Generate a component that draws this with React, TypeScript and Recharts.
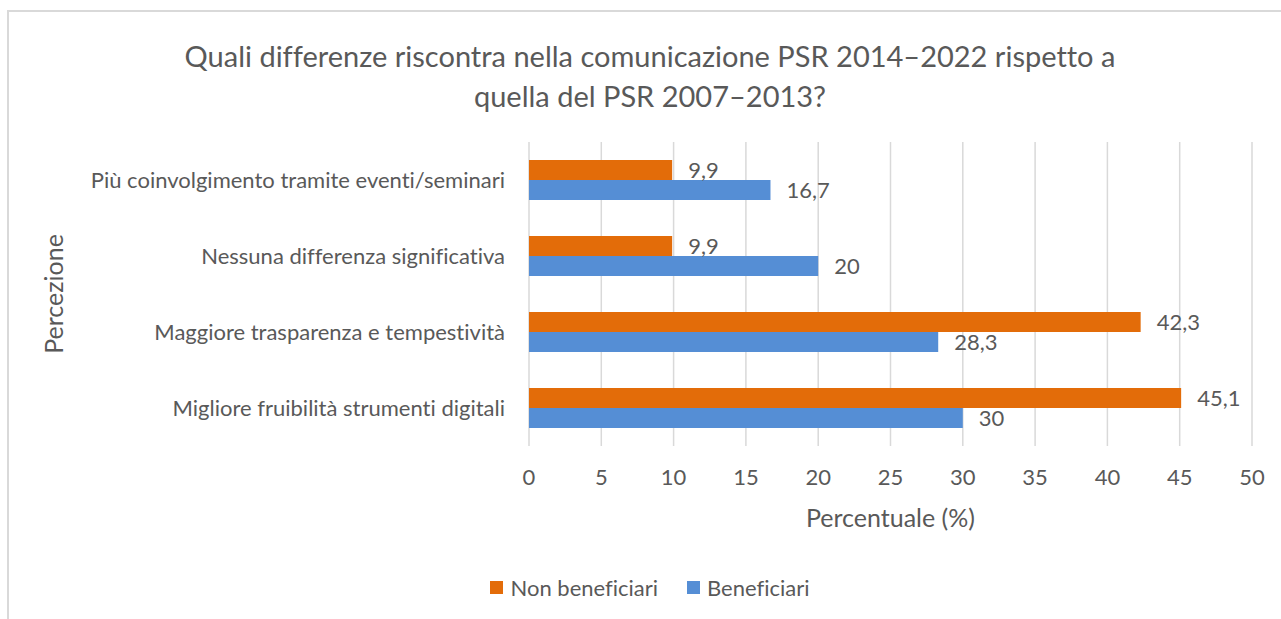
import React from 'react';
import { BarChart, Bar, XAxis, YAxis, CartesianGrid, LabelList, Legend, Label } from 'recharts';

const categories = [
  'Più coinvolgimento tramite eventi/seminari',
  'Nessuna differenza significativa',
  'Maggiore trasparenza e tempestività',
  'Migliore fruibilità strumenti digitali',
];
const nonBeneficiari = [9.9, 9.9, 42.3, 45.1];
const beneficiari = [16.7, 20, 28.3, 30];
const xTicks = [0, 5, 10, 15, 20, 25, 30, 35, 40, 45, 50];

const titleLines = [
  'Quali differenze riscontra nella comunicazione PSR 2014–2022 rispetto a',
  'quella del PSR 2007–2013?',
];

const ORANGE = '#E36C09';
const BLUE = '#558ED5';
const TEXT = '#595959';
const FONT = 'Lato, "Open Sans", sans-serif';

const data = categories.map((name, i) => ({
  name,
  non: nonBeneficiari[i],
  ben: beneficiari[i],
}));

const fmt = (v: any) => String(v).replace('.', ',');

const legendItems = [
  { label: 'Non beneficiari', color: ORANGE },
  { label: 'Beneficiari', color: BLUE },
];

function LegendBox() {
  return (
    <div style={{ display: 'flex', justifyContent: 'center', alignItems: 'center', fontFamily: FONT, fontSize: 22, color: TEXT }}>
      {legendItems.map((it, i) => (
        <span key={it.label} style={{ display: 'inline-flex', alignItems: 'center', marginLeft: i ? 29 : 0 }}>
          <span style={{ width: 13, height: 13, background: it.color, display: 'inline-block', marginRight: 7 }} />
          {it.label}
        </span>
      ))}
    </div>
  );
}

export default function App() {
  return (
    <div
      style={{
        position: 'absolute',
        left: 7,
        top: 10,
        width: 1300,
        height: 640,
        border: '2px solid #D9D9D9',
        boxSizing: 'border-box',
        background: '#fff',
        fontVariantLigatures: 'none',
        fontFeatureSettings: '"liga" 0, "clig" 0',
      }}
    >
      <div
        style={{
          position: 'absolute',
          left: 0,
          top: 24,
          width: 1282,
          textAlign: 'center',
          fontFamily: FONT,
          fontSize: 29,
          lineHeight: '40px',
          color: TEXT,
        }}
      >
        {titleLines.map((t) => (
          <div key={t}>{t}</div>
        ))}
      </div>
      <div style={{ position: 'absolute', left: 0, top: 0 }}>
        <BarChart
          width={1280}
          height={600}
          data={data}
          layout="vertical"
          margin={{ top: 130, right: 37, bottom: 106, left: 0 }}
          barGap={0}
          barSize={20}
        >
          <CartesianGrid horizontal={false} stroke="#D9D9D9" strokeWidth={1.5} />
          <XAxis
            type="number"
            domain={[0, 50]}
            ticks={xTicks}
            axisLine={false}
            tickLine={false}
            tickSize={0}
            tickMargin={23}
            height={60}
            tick={{ fill: TEXT, fontSize: 22, fontFamily: FONT }}
          >
            <Label
              content={({ viewBox }: any) => (
                <text
                  x={viewBox.x + viewBox.width / 2}
                  y={505}
                  textAnchor="middle"
                  dominantBaseline="central"
                  fill={TEXT}
                  fontSize={25}
                  fontFamily={FONT}
                >
                  Percentuale (%)
                </text>
              )}
            />
          </XAxis>
          <YAxis
            type="category"
            dataKey="name"
            width={520}
            axisLine={false}
            tickLine={false}
            tickSize={0}
            tickMargin={24}
            interval={0}
            tick={{ fill: TEXT, fontSize: 22, fontFamily: FONT }}
          >
            <Label
              content={({ viewBox }: any) => (
                <text
                  x={44}
                  y={viewBox.y + viewBox.height / 2}
                  textAnchor="middle"
                  dominantBaseline="central"
                  transform={`rotate(-90 44 ${viewBox.y + viewBox.height / 2})`}
                  fill={TEXT}
                  fontSize={25}
                  fontFamily={FONT}
                >
                  Percezione
                </text>
              )}
            />
          </YAxis>
          <Legend
            verticalAlign="middle"
            align="center"
            wrapperStyle={{ top: 562, left: 0, width: 1282 }}
            content={() => <LegendBox />}
          />
          <Bar dataKey="non" name="Non beneficiari" fill={ORANGE} isAnimationActive={false}>
            <LabelList dataKey="non" position="right" offset={16} formatter={fmt} fill={TEXT} fontSize={22} fontFamily={FONT} />
          </Bar>
          <Bar dataKey="ben" name="Beneficiari" fill={BLUE} isAnimationActive={false}>
            <LabelList dataKey="ben" position="right" offset={16} formatter={fmt} fill={TEXT} fontSize={22} fontFamily={FONT} />
          </Bar>
        </BarChart>
      </div>
    </div>
  );
}
